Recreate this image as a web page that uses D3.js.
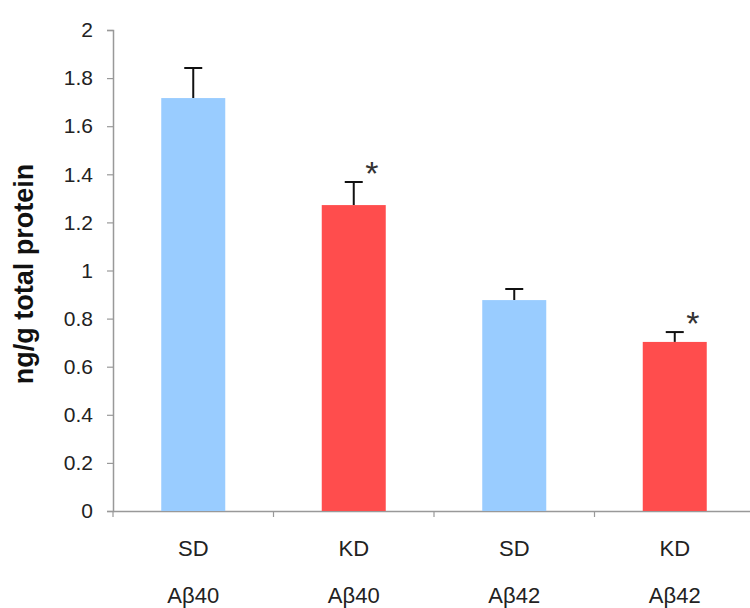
<!DOCTYPE html>
<html><head><meta charset="utf-8">
<script src="https://cdn.jsdelivr.net/npm/d3@7"></script>
<style>body{margin:0;background:#fff}svg{display:block}text{font-family:"Liberation Sans",Arial,sans-serif}</style>
</head><body>
<script>
const groups = ["SD", "KD", "SD", "KD"];
const peptides = ["Aβ40", "Aβ40", "Aβ42", "Aβ42"];
const means = [1.717, 1.272, 0.877, 0.703];
const errors = [0.125, 0.096, 0.046, 0.041];
const significant = [false, true, false, true];
const yTicks = [0, 0.2, 0.4, 0.6, 0.8, 1, 1.2, 1.4, 1.6, 1.8, 2];
const colors = {SD: "#99CCFF", KD: "#FF4D4D"};

const W = 750, H = 608;
const svg = d3.select("body").append("svg").attr("width", W).attr("height", H);
const ids = d3.range(groups.length);
const x = d3.scaleBand().domain(ids).range([113, 755]).paddingInner(0).paddingOuter(0);
const y = d3.scaleLinear().domain([0, 2]).range([511, 30]);
const barW = 64;

// y axis
const yAxis = svg.append("g").attr("transform", "translate(113,0)")
  .call(d3.axisLeft(y).tickValues(yTicks).tickSize(6).tickPadding(14).tickFormat(d3.format("~g")));
yAxis.select(".domain").attr("stroke", "#999").attr("stroke-width", 1.5);
yAxis.selectAll(".tick line").attr("stroke", "#999").attr("stroke-width", 1.2);
yAxis.selectAll(".tick text").attr("font-size", 21).attr("fill", "#222");

// x axis
const xAxis = svg.append("g").attr("transform", "translate(0,511)")
  .call(d3.axisBottom(x).tickSize(0).tickFormat(""));
xAxis.select(".domain").attr("stroke", "#999").attr("stroke-width", 1.5);
xAxis.selectAll(".tick").remove();
// category boundary ticks
svg.append("g").selectAll("line").data(ids).join("line")
  .attr("x1", d => x(d)).attr("x2", d => x(d))
  .attr("y1", 511).attr("y2", 517).attr("stroke", "#999").attr("stroke-width", 1.2);

const cx = d => x(d) + x.bandwidth() / 2;

// error bars
const eb = svg.append("g").attr("stroke", "#111").attr("stroke-width", 2);
eb.selectAll("line.v").data(ids).join("line").attr("class", "v")
  .attr("x1", cx).attr("x2", cx)
  .attr("y1", d => y(means[d])).attr("y2", d => y(means[d] + errors[d]));
eb.selectAll("line.h").data(ids).join("line").attr("class", "h")
  .attr("x1", d => cx(d) - 9).attr("x2", d => cx(d) + 9)
  .attr("y1", d => y(means[d] + errors[d])).attr("y2", d => y(means[d] + errors[d]));

// bars
svg.append("g").selectAll("rect").data(ids).join("rect")
  .attr("x", d => cx(d) - barW / 2).attr("width", barW)
  .attr("y", d => y(means[d])).attr("height", d => y(0) - y(means[d]))
  .attr("fill", d => colors[groups[d]]);

// asterisks
svg.append("g").selectAll("text").data(ids.filter(d => significant[d])).join("text")
  .attr("x", d => cx(d) + 18).attr("y", d => y(means[d] + errors[d]) + 3)
  .attr("text-anchor", "middle").attr("font-size", 34).attr("fill", "#333").text("*");

// x labels
svg.append("g").selectAll("text").data(ids).join("text")
  .attr("x", cx).attr("y", 556).attr("text-anchor", "middle")
  .attr("font-size", 22).attr("fill", "#222").text(d => groups[d]);
svg.append("g").selectAll("text").data(ids).join("text")
  .attr("x", cx).attr("y", 603).attr("text-anchor", "middle")
  .attr("font-size", 22).attr("fill", "#222").text(d => peptides[d]);

// y label
svg.append("text").attr("transform", "translate(33,274) rotate(-90)")
  .attr("text-anchor", "middle").attr("font-size", 27).attr("font-weight", "bold")
  .attr("fill", "#111").text("ng/g total protein");
</script>
</body></html>
